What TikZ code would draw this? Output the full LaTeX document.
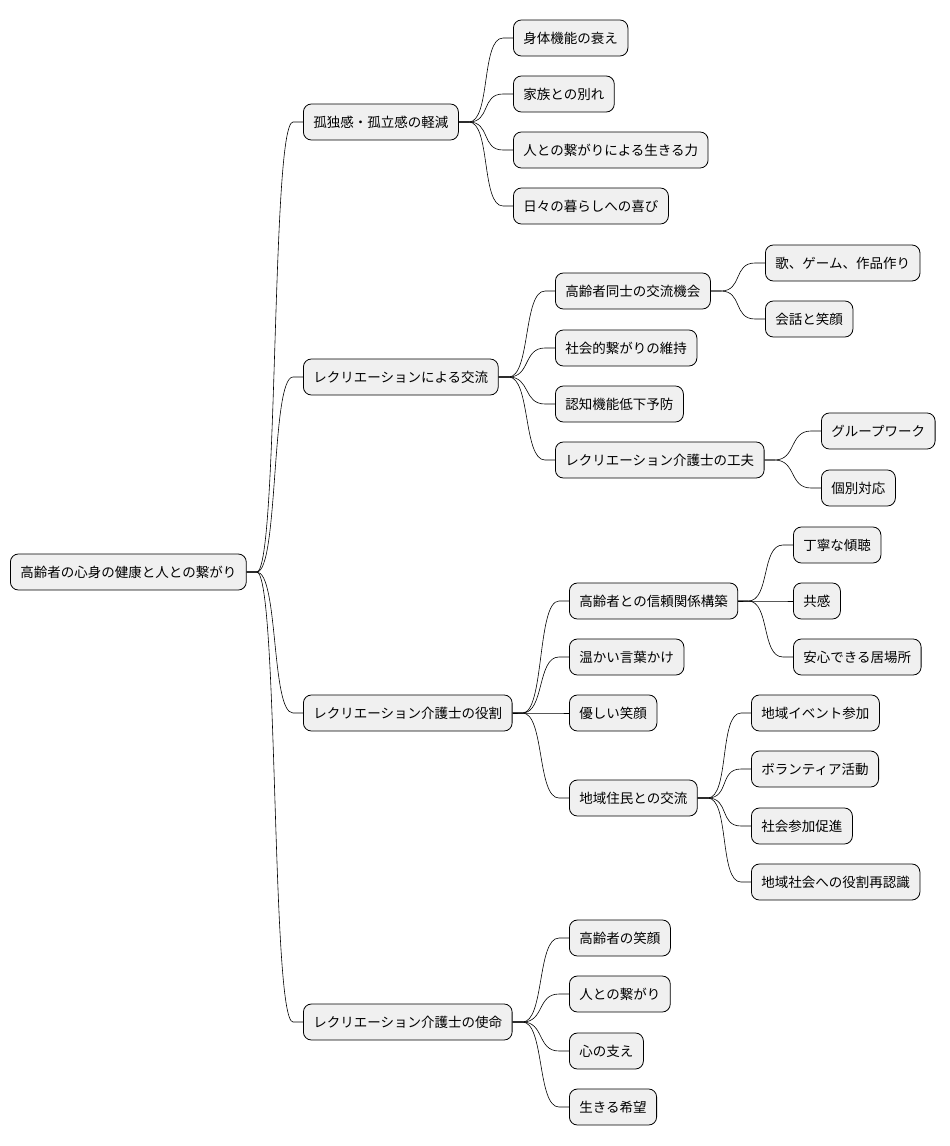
\documentclass[tikz,border=0pt]{standalone}
\usepackage{fontspec}
\setmainfont{Noto Sans CJK JP}
\usetikzlibrary{calc}
\tikzset{mm/.style={draw=black,line width=0.8pt,fill=black!6,rounded corners=8pt,minimum height=36pt,inner xsep=10pt,anchor=west,font=\fontsize{13.5}{16}\selectfont},
con/.style={line width=0.6pt}}
\newcommand{\edge}[2]{\draw[con] (#1.east) -- ++(10,0) .. controls +(22,0) and ($(#2.west)+(-32,0)$) .. ($(#2.west)+(-10,0)$) -- (#2.west);}
\begin{document}
\begin{tikzpicture}[x=1pt,y=-1pt]
\useasboundingbox (0,0) rectangle (950,1146);
\node[mm] (r) at (10,572) {高齢者の心身の健康と人との繋がり};
\node[mm] (a) at (303,122) {孤独感・孤立感の軽減};
\node[mm] (b) at (303,377) {レクリエーションによる交流};
\node[mm] (c) at (303,713) {レクリエーション介護士の役割};
\node[mm] (d) at (303,1022) {レクリエーション介護士の使命};
\node[mm] (a1) at (513,38) {身体機能の衰え};
\node[mm] (a2) at (513,94) {家族との別れ};
\node[mm] (a3) at (513,150) {人との繋がりによる生きる力};
\node[mm] (a4) at (513,206) {日々の暮らしへの喜び};
\node[mm] (b1) at (555,291) {高齢者同士の交流機会};
\node[mm] (b2) at (555,348) {社会的繋がりの維持};
\node[mm] (b3) at (555,404) {認知機能低下予防};
\node[mm] (b4) at (555,460) {レクリエーション介護士の工夫};
\node[mm] (b11) at (765,263) {歌、ゲーム、作品作り};
\node[mm] (b12) at (765,319) {会話と笑顔};
\node[mm] (b41) at (821,431) {グループワーク};
\node[mm] (b42) at (821,488) {個別対応};
\node[mm] (c1) at (569,601) {高齢者との信頼関係構築};
\node[mm] (c2) at (569,657) {温かい言葉かけ};
\node[mm] (c3) at (569,713) {優しい笑顔};
\node[mm] (c4) at (569,798) {地域住民との交流};
\node[mm] (c11) at (793,545) {丁寧な傾聴};
\node[mm] (c12) at (793,601) {共感};
\node[mm] (c13) at (793,657) {安心できる居場所};
\node[mm] (c41) at (751,713) {地域イベント参加};
\node[mm] (c42) at (751,769) {ボランティア活動};
\node[mm] (c43) at (751,826) {社会参加促進};
\node[mm] (c44) at (751,882) {地域社会への役割再認識};
\node[mm] (d1) at (569,938) {高齢者の笑顔};
\node[mm] (d2) at (569,994) {人との繋がり};
\node[mm] (d3) at (569,1051) {心の支え};
\node[mm] (d4) at (569,1107) {生きる希望};
\foreach \c in {a,b,c,d} {\edge{r}{\c}}
\foreach \c in {a1,a2,a3,a4} {\edge{a}{\c}}
\foreach \c in {b1,b2,b3,b4} {\edge{b}{\c}}
\foreach \c in {b11,b12} {\edge{b1}{\c}}
\foreach \c in {b41,b42} {\edge{b4}{\c}}
\foreach \c in {c1,c2,c3,c4} {\edge{c}{\c}}
\foreach \c in {c11,c12,c13} {\edge{c1}{\c}}
\foreach \c in {c41,c42,c43,c44} {\edge{c4}{\c}}
\foreach \c in {d1,d2,d3,d4} {\edge{d}{\c}}
\end{tikzpicture}
\end{document}
